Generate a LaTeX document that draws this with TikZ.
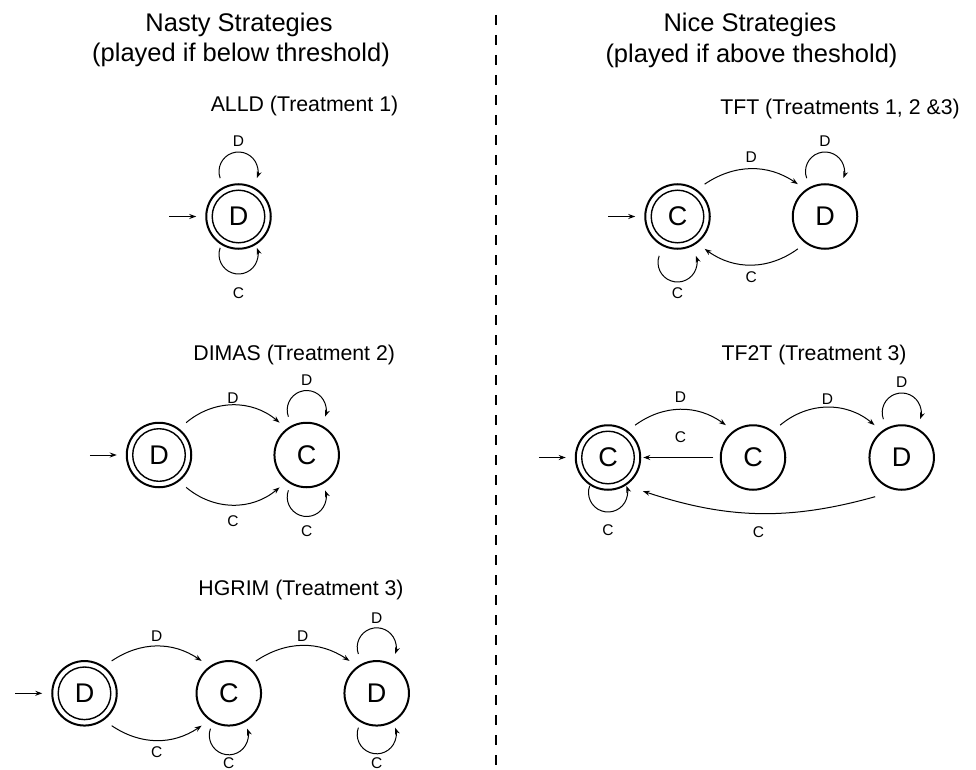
\documentclass[tikz,border=0pt]{standalone}
\usepackage{fontspec}
\setmainfont{Liberation Sans}
\usetikzlibrary{arrows.meta,calc}
\newcommand\looptop[3][45]{%
  \draw[edge] ($(#2.center)+(0,#1)+(200:19.5)$) arc[start angle=200,end angle=-20,radius=19.5];
  \node[lab] (#2-lt) at ($(#2.center)+(0,75)$) {#3};}
\newcommand\loopbot[4][42]{%
  \draw[edge] ($(#2.center)+(0,-#1)+(160:19.5)$) arc[start angle=160,end angle=380,radius=19.5];
  \node[lab] (#2-lb) at ($(#2.center)+(0,-#3)$) {#4};}
\begin{document}
\begin{tikzpicture}[x=1pt,y=1pt,
  state/.style={circle,draw,line width=2pt,minimum size=64.5pt,inner sep=0pt,outer sep=10pt,
    font=\fontsize{27}{27}\selectfont},
  accept/.style={state,path picture={\draw[line width=1.4pt] (path picture bounding box.center) circle[radius=26.3pt];}},
  edge/.style={line width=1pt,-{Stealth[length=7pt,width=5pt]}},
  lab/.style={font=\fontsize{15.5}{15.5}\selectfont,inner sep=1pt},
  sub/.style={font=\fontsize{21.3}{21.3}\selectfont,anchor=base,inner sep=0pt},
  head/.style={font=\fontsize{25.5}{25.5}\selectfont,anchor=base,inner sep=0pt}
]
\useasboundingbox (0,0) rectangle (976,-770);

% headings
\node[head] (nasty1) at (239,-31.7) {Nasty Strategies};
\node[head] (nasty2) at (241,-62) {(played if below threshold)};
\node[head] (nice1) at (750,-31.7) {Nice Strategies};
\node[head] (nice2) at (751.5,-62.5) {(played if above theshold)};

% divider
\coordinate (dtop) at (496,-15);
\coordinate (dbot) at (496,-775);
\draw[line width=2pt,dash pattern=on 10pt off 10pt] (dtop) -- (dbot);

% subtitles
\node[sub] (t-alld) at (304.5,-111.7) {ALLD (Treatment 1)};
\node[sub] (t-dimas) at (294.2,-360.7) {DIMAS (Treatment 2)};
\node[sub] (t-hgrim) at (301,-595) {HGRIM (Treatment 3)};
\node[sub] (t-tft) at (840,-115) {TFT (Treatments 1, 2 \&3)};
\node[sub] (t-tf2t) at (814,-360.7) {TF2T (Treatment 3)};

% states
\node[accept] (ad) at (238.5,-216.5) {D};
\node[accept] (dd) at (159,-455) {D};
\node[state] (dc) at (306.7,-455) {C};
\node[accept] (hd1) at (84.5,-693.3) {D};
\node[state] (hc) at (228.8,-693.3) {C};
\node[state] (hd2) at (376.7,-693.3) {D};
\node[accept] (tc) at (677.5,-216.5) {C};
\node[state] (td) at (825,-216.5) {D};
\node[accept] (fc1) at (608,-457.5) {C};
\node[state] (fc2) at (753,-457.5) {C};
\node[state] (fd) at (901.7,-457.5) {D};

% start arrows
\foreach \n in {ad,dd,hd1,tc,fc1}{
  \coordinate (\n-in) at ($(\n.west)+(-27,0)$);
  \draw[edge] (\n-in) -- (\n.west);
}

% ALLD
\looptop{ad}{D}
\loopbot[38]{ad}{77}{C}

% DIMAS
\draw[edge] (dd.50) to[bend left=40] node[lab,above] (dd-dc-d) {D} (dc.130);
\draw[edge] (dd.-50) to[bend right=40] node[lab,below=9pt] (dd-dc-c) {C} (dc.-130);
\looptop{dc}{D}
\loopbot{dc}{76}{C}

% HGRIM
\draw[edge] (hd1.50) to[bend left=34] node[lab,above=3pt] (hd1-hc-d) {D} (hc.130);
\draw[edge] (hd1.-50) to[bend right=34] node[lab,below=5pt] (hd1-hc-c) {C} (hc.-130);
\draw[edge] (hc.50) to[bend left=34] node[lab,above=3pt] (hc-hd2-d) {D} (hd2.130);
\loopbot{hc}{69.5}{C}
\looptop[46]{hd2}{D}
\loopbot[41]{hd2}{69.5}{C}

% TFT
\draw[edge] (tc.50) to[bend left=34] node[lab,above=5pt] (tc-td-d) {D} (td.130);
\draw[edge] (td.-130) to[bend left=36] node[lab,below=5pt] (td-tc-c) {C} (tc.-50);
\looptop{td}{D}
\loopbot[46]{tc}{77}{C}

% TF2T
\draw[edge] (fc1.50) to[bend left=36] node[lab,above=6pt] (fc1-fc2-d) {D} (fc2.130);
\draw[edge] (fc2.50) to[bend left=40] node[lab,above=1pt] (fc2-fd-d) {D} (fd.130);
\draw[edge,shorten <=-2.5pt,shorten >=-7pt] (fc2.west) -- node[lab,above=13pt] (fc2-fc1-c) {C} (fc1.east);
\draw[edge,shorten <=7pt,shorten >=7pt] (fd.242) to[bend left=17] node[lab,below=12pt] (fd-fc1-c) {C} (fc1.-48);
\looptop{fd}{D}
\loopbot[35]{fc1}{73}{C}
\end{tikzpicture}
\end{document}
